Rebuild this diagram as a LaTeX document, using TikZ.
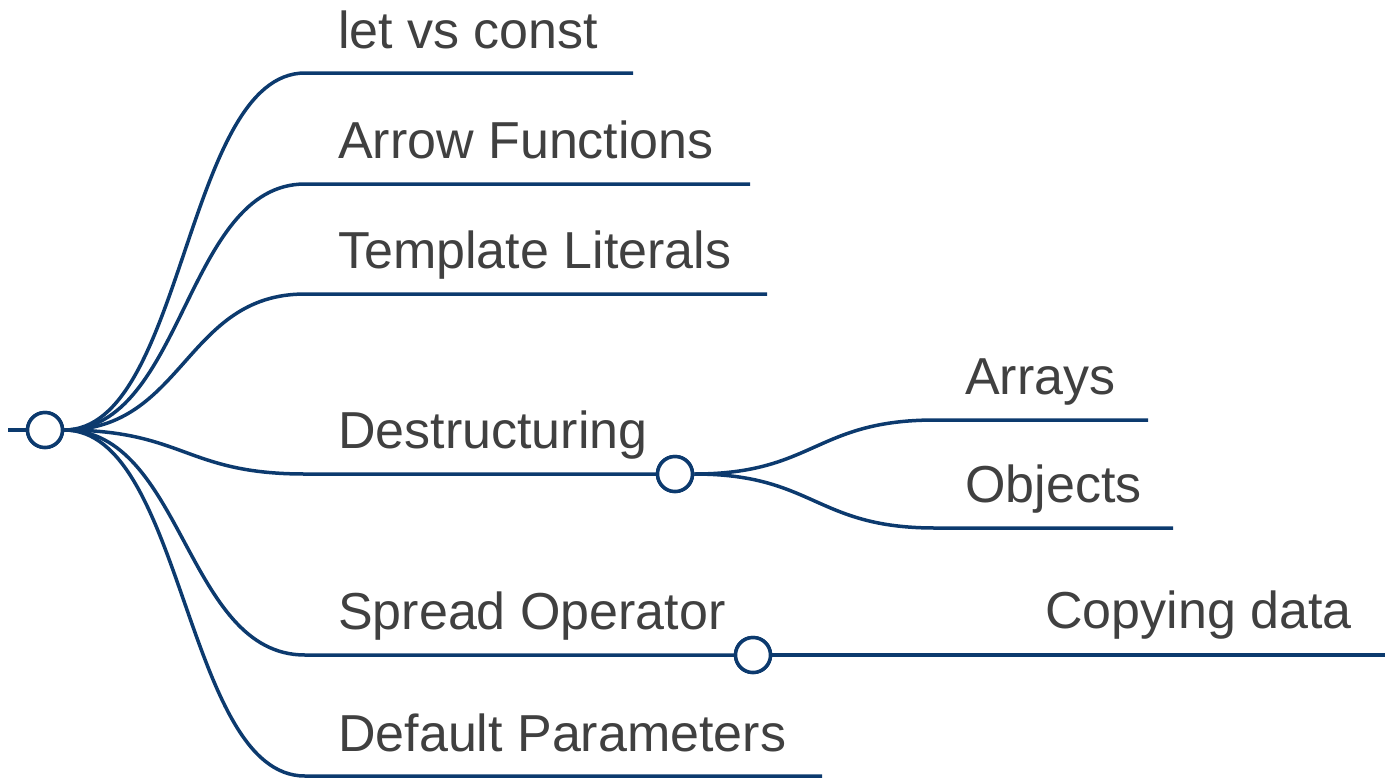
\documentclass[tikz,border=0pt]{standalone}
\usepackage{fontspec}
\setmainfont{Liberation Sans}
\definecolor{edge}{RGB}{12,58,110}
\definecolor{txt}{RGB}{64,64,64}
\begin{document}
\begin{tikzpicture}[x=1pt,y=-1pt,
  edgeline/.style={draw=edge,line width=3.5pt},
  dot/.style={circle,draw=edge,line width=3.5pt,fill=white,minimum size=35pt,inner sep=0pt},
  lbl/.style={anchor=base west,text=txt,font=\fontsize{52}{60}\selectfont,inner sep=0pt}]
\useasboundingbox (0,0) rectangle (1389,780);
% coordinates
\coordinate (stub) at (8,430);
\coordinate (s1) at (305,73);  \coordinate (e1) at (633,73);
\coordinate (s2) at (305,184); \coordinate (e2) at (750,184);
\coordinate (s3) at (305,294); \coordinate (e3) at (767,294);
\coordinate (s4) at (305,474);
\coordinate (s5) at (305,655);
\coordinate (s6) at (305,776); \coordinate (e6) at (822,776);
\coordinate (sa) at (935,420); \coordinate (ea) at (1148,420);
\coordinate (so) at (935,528); \coordinate (eo) at (1173,528);
\coordinate (ec) at (1385,655);
% curves and lines
\node[dot] (root) at (45,430) {};
\node[dot] (des) at (675,474) {};
\node[dot] (spr) at (753,655) {};
\draw[edgeline] (stub) -- (root.west);
\draw[edgeline] (root.east) .. controls +(120,0) and +(-120,0) .. (s1) -- (e1);
\draw[edgeline] (root.east) .. controls +(120,0) and +(-120,0) .. (s2) -- (e2);
\draw[edgeline] (root.east) .. controls +(120,0) and +(-120,0) .. (s3) -- (e3);
\draw[edgeline] (root.east) .. controls +(120,0) and +(-120,0) .. (s4) -- (des.west);
\draw[edgeline] (root.east) .. controls +(120,0) and +(-120,0) .. (s5) -- (spr.west);
\draw[edgeline] (root.east) .. controls +(120,0) and +(-120,0) .. (s6) -- (e6);
\draw[edgeline] (des.east) .. controls +(120,0) and +(-120,0) .. (sa) -- (ea);
\draw[edgeline] (des.east) .. controls +(120,0) and +(-120,0) .. (so) -- (eo);
\draw[edgeline] (spr.east) -- (ec);
% redraw dots on top
\node[dot] at (root) {};
\node[dot] at (des) {};
\node[dot] at (spr) {};
% labels
\node[lbl] (t1) at (338,48) {let vs const};
\node[lbl] (t2) at (338,158) {Arrow Functions};
\node[lbl] (t3) at (338,268) {Template Literals};
\node[lbl] (t4) at (338,448) {Destructuring};
\node[lbl] (t5) at (338,629) {Spread Operator};
\node[lbl] (t6) at (338,751) {Default Parameters};
\node[lbl] (ta) at (965,394) {Arrays};
\node[lbl] (to) at (965,502) {Objects};
\node[lbl] (tc) at (1045,628) {Copying data};
\end{tikzpicture}
\end{document}
